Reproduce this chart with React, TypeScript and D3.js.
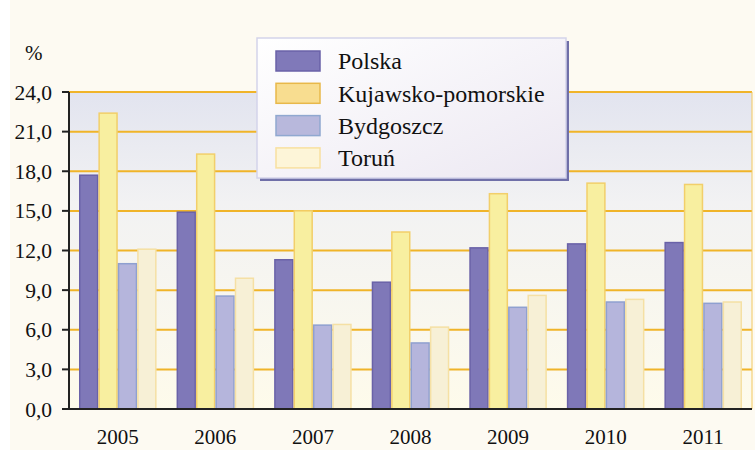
import React from 'react';
import * as d3 from 'd3';

const years = ['2005', '2006', '2007', '2008', '2009', '2010', '2011'];
const seriesNames = ['Polska', 'Kujawsko-pomorskie', 'Bydgoszcz', 'Toruń'];
const polska = [17.7, 14.9, 11.3, 9.6, 12.2, 12.5, 12.6];
const kujawsko = [22.4, 19.3, 15.0, 13.4, 16.3, 17.1, 17.0];
const bydgoszcz = [11.0, 8.55, 6.35, 5.0, 7.7, 8.1, 8.0];
const torun = [12.1, 9.9, 6.4, 6.2, 8.6, 8.3, 8.1];
const yTicks = [0, 3, 6, 9, 12, 15, 18, 21, 24];

const barFill = ['#7f78b8', '#f8efa0', '#b5b5dc', '#f7f0d6'];
const barStroke = ['#6a62a8', '#f2cf6a', '#8fa0d0', '#f5e0a4'];
const swatchFill = ['#8079b9', '#f8dd90', '#b8b8dc', '#fdf5d8'];
const swatchStroke = ['#6a62a8', '#e8b84a', '#90a8d0', '#f8e0a0'];

const W = 755;
const H = 450;
const margin = { left: 69, right: 3, top: 92, bottom: 41 };

export default function App() {
  const values = [polska, kujawsko, bydgoszcz, torun];
  const innerW = W - margin.left - margin.right;
  const innerH = H - margin.top - margin.bottom;

  const x0 = d3.scaleBand().domain(years).range([0, innerW]).paddingInner(0.205).paddingOuter(0.1025);
  const x1 = d3.scaleBand().domain(seriesNames).range([0, x0.bandwidth()]);
  const y = d3.scaleLinear().domain([0, 24]).range([innerH, 0]);
  const fmt = (v: number) => d3.format('.1f')(v).replace('.', ',');
  const font = "'Liberation Serif', 'Times New Roman', Tinos, 'DejaVu Serif', serif";

  return (
    <svg width={W} height={H} style={{ position: 'absolute', left: 0, top: 0, fontFamily: font }}>
      <defs>
        <linearGradient id="plotBg" x1="0" y1="0" x2="0" y2="1">
          <stop offset="0%" stopColor="#e2e4ef" />
          <stop offset="35%" stopColor="#f2f2f3" />
          <stop offset="100%" stopColor="#fefbeb" />
        </linearGradient>
        <linearGradient id="legBg" x1="0" y1="0" x2="1" y2="1">
          <stop offset="0%" stopColor="#ffffff" />
          <stop offset="100%" stopColor="#ece8f2" />
        </linearGradient>
      </defs>
      <rect x={0} y={0} width={W} height={H} fill="#ffffff" />
      <rect x={10} y={0} width={W - 10} height={H} fill="#fdfaf2" />
      <g transform={`translate(${margin.left},${margin.top})`}>
        <rect x={0} y={0} width={innerW} height={innerH} fill="url(#plotBg)" />
        {yTicks.map(t => (
          <g key={t}>
            {t > 0 && <line x1={0} x2={innerW} y1={y(t)} y2={y(t)} stroke="#f0b429" strokeWidth={2} />}
            <line x1={-7} x2={0} y1={y(t)} y2={y(t)} stroke="#222" strokeWidth={2} />
            <text x={-17} y={y(t)} dy="0.35em" textAnchor="end" fontSize={21.5} fill="#111">{fmt(t)}</text>
          </g>
        ))}
        <line x1={innerW} x2={innerW} y1={0} y2={innerH} stroke="#f3c860" strokeWidth={1} />
        {years.map((yr, i) => (
          <g key={yr} transform={`translate(${x0(yr)},0)`}>
            {seriesNames.map((s, j) => (
              <rect key={s} x={(x1(s) as number) + 0.75} y={y(values[j][i])} width={x1.bandwidth() - 1.5}
                height={innerH - y(values[j][i])} fill={barFill[j]} stroke={barStroke[j]} strokeWidth={1.5} />
            ))}
            <text x={x0.bandwidth() / 2} y={innerH + 28} dy="0.35em" textAnchor="middle" fontSize={21} fill="#111">{yr}</text>
          </g>
        ))}
        <line x1={0} x2={0} y1={0} y2={innerH} stroke="#222" strokeWidth={2} />
        <line x1={0} x2={innerW} y1={innerH} y2={innerH} stroke="#222" strokeWidth={2} />
      </g>
      <text x={25} y={60} fontSize={21} fill="#111">%</text>
      <g transform="translate(257,38)">
        <rect x={3} y={3} width={309} height={140} fill="#6f6fa8" />
        <rect x={0} y={0} width={309} height={140} fill="url(#legBg)" stroke="#d4d4ea" strokeWidth={1.5} />
        {seriesNames.map((s, j) => (
          <g key={s} transform={`translate(0,${23 + j * 32.3})`}>
            <rect x={19} y={-10} width={44} height={20} fill={swatchFill[j]} stroke={swatchStroke[j]} strokeWidth={1.5} />
            <text x={81} y={0} dy="0.35em" fontSize={24} fill="#111">{s}</text>
          </g>
        ))}
      </g>
    </svg>
  );
}
